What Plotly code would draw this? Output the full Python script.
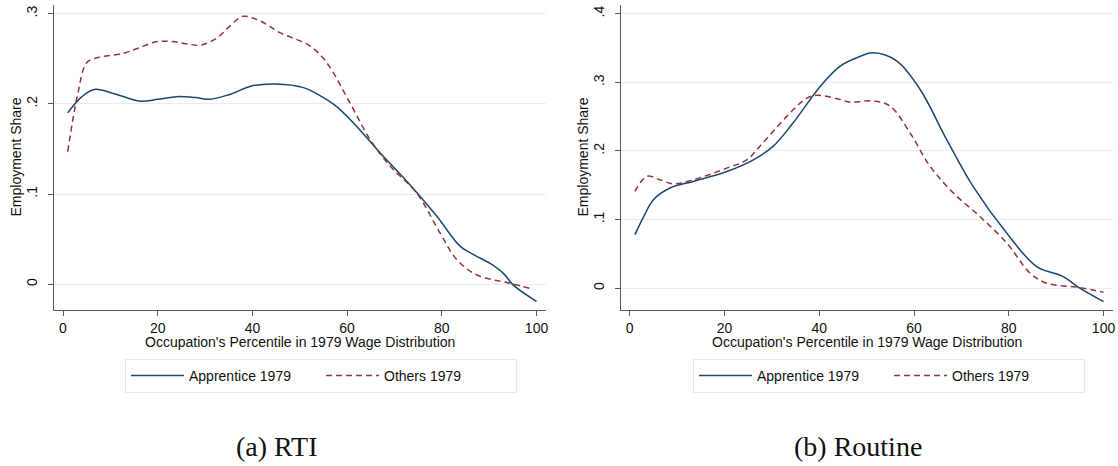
import plotly.graph_objects as go

# ---------------- data ----------------
rti_app_x = [1, 4, 6.6, 11, 16.3, 20, 24, 28, 31, 35, 40, 45, 50.8, 54, 57.8, 61.3,
             67, 73.3, 79, 83.9, 87, 90.2, 93, 95.1, 100]
rti_app_y = [0.190, 0.208, 0.216, 0.211, 0.203, 0.205, 0.208, 0.207, 0.205, 0.210,
             0.220, 0.222, 0.218, 0.210, 0.197, 0.179, 0.1456, 0.110, 0.075, 0.042,
             0.032, 0.023, 0.012, -0.001, -0.019]

rti_oth_x = [1, 3, 5, 7.1, 12.7, 16, 19.8, 23, 26, 29, 32.5, 35, 38, 41.6, 45.8, 52.2,
             55.7, 60.6, 64.9, 69.1, 74.7, 79.6, 83.2, 87.4, 94.4, 99.4]
rti_oth_y = [0.147, 0.208, 0.2456, 0.251, 0.256, 0.262, 0.269, 0.269, 0.2667, 0.265,
             0.273, 0.285, 0.297, 0.292, 0.279, 0.264, 0.2456, 0.201, 0.160, 0.131,
             0.101, 0.057, 0.027, 0.0103, 0.001, -0.0056]

rou_app_x = [1.1, 3, 5, 8.5, 13.4, 20.5, 26.1, 30.3, 34.5, 40.2, 44.4, 48, 51.4, 56.4,
             61.3, 66.9, 72.5, 79.6, 85.9, 91.5, 95, 100]
rou_app_y = [0.078, 0.105, 0.129, 0.146, 0.1556, 0.170, 0.187, 0.207, 0.241, 0.294,
             0.3235, 0.336, 0.343, 0.331, 0.2895, 0.2165, 0.148, 0.080, 0.0315, 0.017,
             0.0, -0.0195]

rou_oth_x = [1.1, 3.6, 6.4, 9.2, 13.4, 20.5, 24.7, 27.5, 33.1, 37.4, 39.5, 44.4, 46.5,
             51.4, 55, 59.2, 63.4, 68.3, 73.9, 79.6, 84.5, 88, 95, 100]
rou_oth_y = [0.141, 0.163, 0.158, 0.152, 0.158, 0.175, 0.187, 0.207, 0.250, 0.277,
             0.281, 0.275, 0.271, 0.273, 0.265, 0.226, 0.1775, 0.1387, 0.1045, 0.0657,
             0.022, 0.0073, 0.001, -0.006]

x_ticks = [0, 20, 40, 60, 80, 100]
x_tick_labels = ["0", "20", "40", "60", "80", "100"]
rti_y_ticks = [0, 0.1, 0.2, 0.3]
rti_y_labels = ["0", ".1", ".2", ".3"]
rou_y_ticks = [0, 0.1, 0.2, 0.3, 0.4]
rou_y_labels = ["0", ".1", ".2", ".3", ".4"]

series_names = ["Apprentice 1979", "Others 1979"]
panel_captions = ["(a) RTI", "(b) Routine"]
x_title = "Occupation's Percentile in 1979 Wage Distribution"
y_title = "Employment Share"

# ---------------- style ----------------
W, H = 1118, 466
NAVY = "#1a476f"
MAROON = "#90353b"
GRID = "#e4eef0"
AXIS = "#5a5a5a"
SANS = "Liberation Sans, Arial, sans-serif"
SERIF = "Liberation Serif, Times New Roman, serif"

def px_x(p):
    return p / W

def px_y(p):
    return 1 - p / H

fig = go.Figure()

panels = [
    (rti_app_x, rti_app_y, rti_oth_x, rti_oth_y, "x", "y", "legend"),
    (rou_app_x, rou_app_y, rou_oth_x, rou_oth_y, "x2", "y2", "legend2"),
]
for ax, ay, ox, oy, xa, ya, lg in panels:
    fig.add_trace(go.Scatter(x=ax, y=ay, mode="lines", name=series_names[0],
                             line=dict(color=NAVY, width=1.5, shape="spline", smoothing=1),
                             xaxis=xa, yaxis=ya, legend=lg))
    fig.add_trace(go.Scatter(x=ox, y=oy, mode="lines", name=series_names[1],
                             line=dict(color=MAROON, width=1.5, dash="6px,4px",
                                       shape="spline", smoothing=1),
                             xaxis=xa, yaxis=ya, legend=lg))

common_x = dict(tickvals=x_ticks, ticktext=x_tick_labels, showgrid=False, zeroline=False,
                showline=True, linecolor=AXIS, linewidth=1.3, ticks="outside", ticklen=5,
                tickcolor=AXIS, tickwidth=1.2, tickfont=dict(family=SANS, size=14, color="#111"),
                fixedrange=True)
common_y = dict(showgrid=True, gridcolor=GRID, gridwidth=1, zeroline=False,
                showline=True, linecolor=AXIS, linewidth=1.3, ticks="outside", ticklen=5,
                tickcolor=AXIS, tickwidth=1.2, tickangle=-90, ticklabelstandoff=5,
                tickfont=dict(family=SANS, size=14, color="#111"), fixedrange=True)

legend_common = dict(orientation="h", xanchor="left", yanchor="top",
                     bordercolor="#dfe8ea", borderwidth=1, bgcolor="white",
                     font=dict(family=SANS, size=14, color="#111"),
                     itemwidth=53, entrywidth=127, entrywidthmode="pixels",
                     tracegroupgap=0, itemclick=False, itemdoubleclick=False)

yb, yt = px_y(310), px_y(5)
fig.update_layout(
    width=W, height=H,
    margin=dict(l=0, r=0, t=0, b=0, autoexpand=False),
    paper_bgcolor="white", plot_bgcolor="white",
    xaxis=dict(domain=[px_x(54), px_x(546)], range=[-1.9, 102], anchor="y", **common_x),
    yaxis=dict(domain=[yb, yt], range=[-0.0286, 0.3096], anchor="x",
               tickvals=rti_y_ticks, ticktext=rti_y_labels, **common_y),
    xaxis2=dict(domain=[px_x(621), px_x(1113)], range=[-1.84, 102], anchor="y2", **common_x),
    yaxis2=dict(domain=[yb, yt], range=[-0.0317, 0.4126], anchor="x2",
                tickvals=rou_y_ticks, ticktext=rou_y_labels, **common_y),
    legend=dict(x=px_x(125), y=px_y(359), **legend_common),
    legend2=dict(x=px_x(693), y=px_y(359), **legend_common),
    showlegend=True,
)

annos = [
    dict(text=y_title, x=px_x(15), y=px_y(157.5), textangle=-90),
    dict(text=y_title, x=px_x(582), y=px_y(157.5), textangle=-90),
    dict(text=x_title, x=px_x(300), y=px_y(342)),
    dict(text=x_title, x=px_x(867), y=px_y(342)),
]
for a in annos:
    fig.add_annotation(xref="paper", yref="paper", showarrow=False, xanchor="center",
                       yanchor="middle", font=dict(family=SANS, size=14, color="#111"), **a)

for cap, cx in zip(panel_captions, [276.5, 858]):
    fig.add_annotation(text=cap, xref="paper", yref="paper", x=px_x(cx), y=px_y(446),
                       showarrow=False, xanchor="center", yanchor="middle",
                       font=dict(family=SERIF, size=28, color="#111"))

fig.write_html("out.html", config={"displayModeBar": False},
               post_script="document.body.style.margin='0';document.body.style.padding='0';")
